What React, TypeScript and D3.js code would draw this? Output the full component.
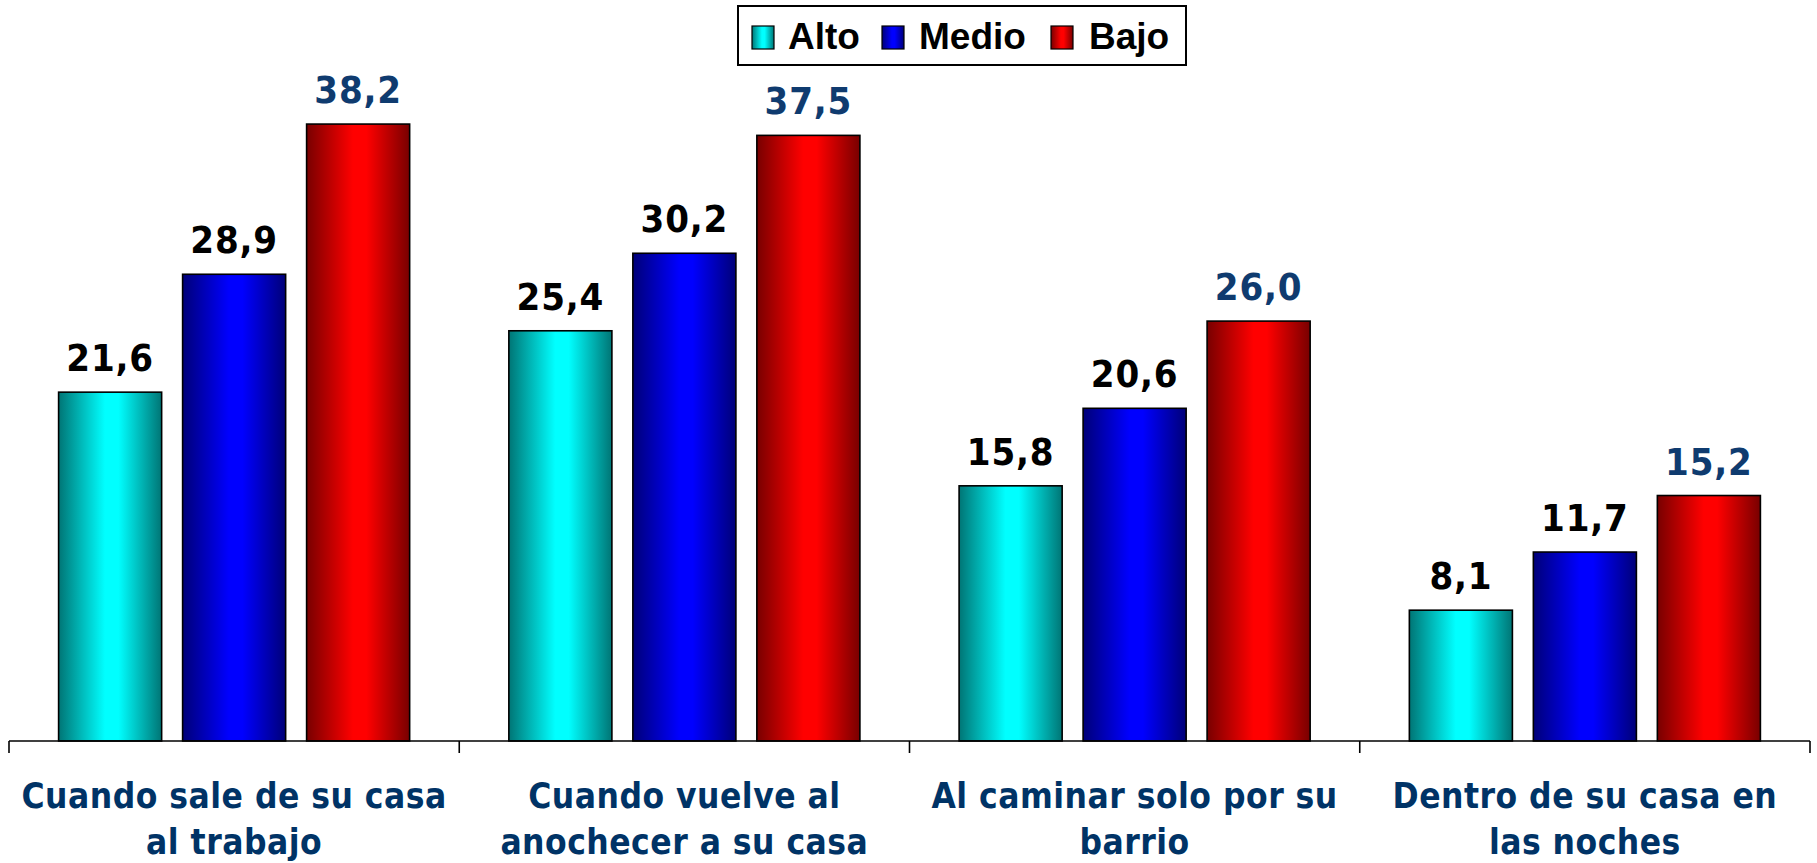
import React from "react";
import * as d3 from "d3";

const categories: string[][] = [
  ["Cuando sale de su casa", "al trabajo"],
  ["Cuando vuelve al", "anochecer a su casa"],
  ["Al caminar solo por su", "barrio"],
  ["Dentro de su casa en", "las noches"],
];
const seriesNames = ["Alto", "Medio", "Bajo"];
const alto = [21.6, 25.4, 15.8, 8.1];
const medio = [28.9, 30.2, 20.6, 11.7];
const bajo = [38.2, 37.5, 26.0, 15.2];
const seriesValues = [alto, medio, bajo];

const W = 1817;
const H = 863;
const baseY = 741;
const x0 = 9;
const x1 = 1810;

const gradStops = [
  { dark: "#007575", bright: "#00FFFF" },
  { dark: "#000078", bright: "#0000FF" },
  { dark: "#780000", bright: "#FF0000" },
];
const labelColors = ["#000000", "#000000", "#0F3B6F"];
const catColor = "#003366";
const labelFont = "'DejaVu Sans Condensed', 'DejaVu Sans', sans-serif";

export default function App() {
  const xCat = d3
    .scaleBand<number>()
    .domain(d3.range(categories.length))
    .range([x0, x1])
    .paddingInner(0)
    .paddingOuter(0);
  const xSer = d3
    .scaleBand<number>()
    .domain(d3.range(seriesNames.length))
    .range([0, xCat.bandwidth()])
    .paddingInner(0.169)
    .paddingOuter(0.4);
  const y = d3.scaleLinear().domain([0, 40]).range([baseY, baseY - 40 * 16.15]);

  const fmt = (v: number) => d3.format(".1f")(v).replace(".", ",");

  const tickXs = d3.range(categories.length + 1).map((i) =>
    i < categories.length ? (xCat(i) as number) : x1
  );

  const legendItems = [
    { sx: 752, tx: 788 },
    { sx: 882, tx: 919 },
    { sx: 1051, tx: 1089 },
  ];

  return (
    <svg
      width={W}
      height={H}
      style={{ position: "absolute", left: 0, top: 0, background: "#fff" }}
    >
      <defs>
        {gradStops.map((g, i) => (
          <linearGradient key={i} id={`g${i}`} x1="0" x2="1" y1="0" y2="0">
            <stop offset="0" stopColor={g.dark} />
            <stop offset="0.45" stopColor={g.bright} />
            <stop offset="0.58" stopColor={g.bright} />
            <stop offset="1" stopColor={g.dark} />
          </linearGradient>
        ))}
      </defs>
      <rect x={0} y={0} width={W} height={H} fill="#fff" />

      {/* bars */}
      {categories.map((_, ci) =>
        seriesValues.map((vals, si) => {
          const bx = (xCat(ci) as number) + (xSer(si) as number);
          const bw = xSer.bandwidth();
          const v = vals[ci];
          return (
            <g key={`${ci}-${si}`}>
              <rect
                x={bx}
                y={y(v)}
                width={bw}
                height={baseY - y(v)}
                fill={`url(#g${si})`}
                stroke="#000"
                strokeWidth={1.6}
              />
              <text
                x={bx + bw / 2}
                y={y(v) - 21}
                textAnchor="middle"
                fontFamily={labelFont}
                fontWeight="bold"
                fontSize={38}
                letterSpacing={0.8}
                fill={labelColors[si]}
                style={{ fontStretch: "condensed" }}
              >
                {fmt(v)}
              </text>
            </g>
          );
        })
      )}

      {/* axis */}
      <line x1={x0} x2={x1} y1={baseY} y2={baseY} stroke="#000" strokeWidth={1.6} />
      {tickXs.map((tx, i) => (
        <line key={i} x1={tx} x2={tx} y1={baseY} y2={baseY + 12} stroke="#000" strokeWidth={1.6} />
      ))}

      {/* category labels */}
      {categories.map((lines, ci) => (
        <text
          key={ci}
          x={(xCat(ci) as number) + xCat.bandwidth() / 2}
          y={808}
          textAnchor="middle"
          fontFamily={labelFont}
          fontWeight="bold"
          fontSize={35}
          letterSpacing={0.5}
          fill={catColor}
          style={{ fontStretch: "condensed" }}
        >
          {lines.map((l, li) => (
            <tspan key={li} x={(xCat(ci) as number) + xCat.bandwidth() / 2} y={808 + li * 46}>
              {l}
            </tspan>
          ))}
        </text>
      ))}

      {/* legend */}
      <rect x={738} y={6} width={448} height={59} fill="#fff" stroke="#000" strokeWidth={2} />
      {seriesNames.map((name, i) => (
        <g key={name}>
          <rect
            x={legendItems[i].sx}
            y={26}
            width={22}
            height={23}
            fill={`url(#g${i})`}
            stroke="#000"
            strokeWidth={1.2}
          />
          <text
            x={legendItems[i].tx}
            y={49}
            fontFamily="'Liberation Sans', Arial, sans-serif"
            fontWeight="bold"
            fontSize={37}
            fill="#000"
          >
            {name}
          </text>
        </g>
      ))}
    </svg>
  );
}
